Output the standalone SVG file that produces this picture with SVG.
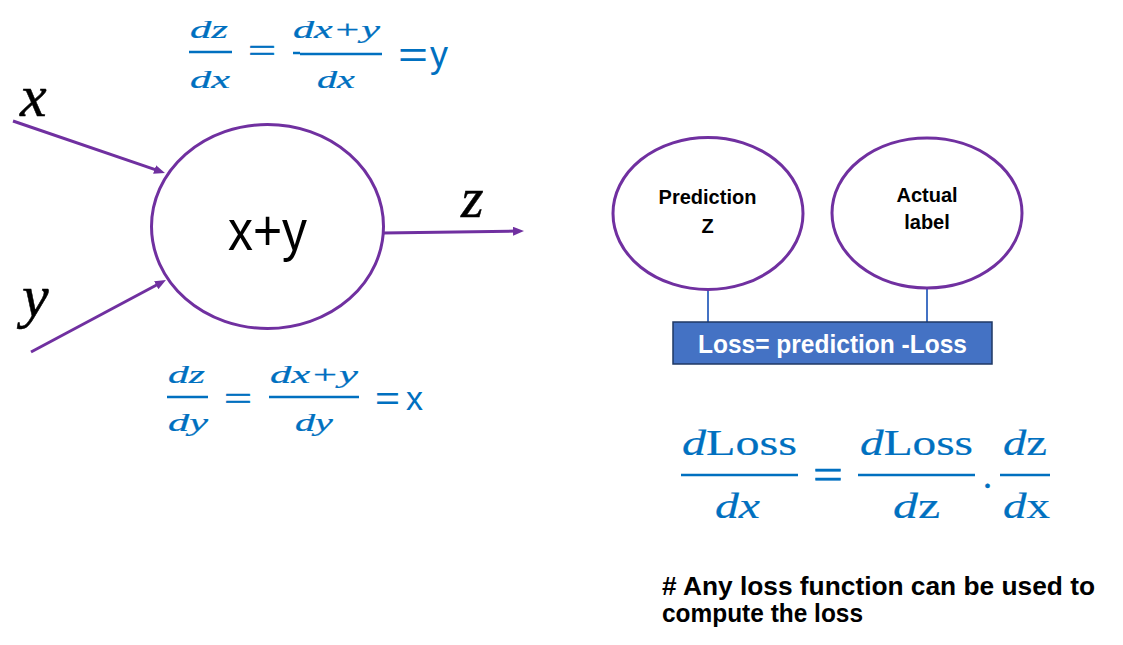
<svg xmlns="http://www.w3.org/2000/svg" width="1123" height="645" viewBox="0 0 1123 645">
<style>
.node{fill:#fff;stroke:#7030A0;stroke-width:3}
.arrow{stroke:#7030A0;stroke-width:3;fill:none}
.link{stroke:#4472C4;stroke-width:2;fill:none}
.var{font-family:"Liberation Serif","DejaVu Serif",serif;font-style:italic;fill:#000;stroke:#000;stroke-width:0.5}
.m{font-family:"Liberation Serif","DejaVu Serif",serif;font-style:italic;fill:#0070C0;stroke:#0070C0;stroke-width:0.2}
.up{font-style:normal}
.eq{font-family:"Liberation Serif","DejaVu Serif",serif;fill:#0070C0;stroke:#0070C0;stroke-width:0.5}
.sans{font-family:"Liberation Sans",Arial,sans-serif;fill:#0070C0}
.bar{stroke:#0070C0;stroke-width:2.5}
.lbl{font-family:"Liberation Sans",Arial,sans-serif;font-weight:bold;fill:#000;text-anchor:middle}
</style>
<defs>
<marker id="ah" markerUnits="userSpaceOnUse" markerWidth="12" markerHeight="10" refX="3" refY="4.5" orient="auto">
<path d="M0,0 L11,4.5 L0,9 z" fill="#7030A0"/>
</marker>
</defs>
<rect width="1123" height="645" fill="#fff"/>

<g id="connectors">
<line class="arrow" x1="13" y1="121" x2="157.4" y2="170.4" marker-end="url(#ah)"/>
<line class="arrow" x1="31" y1="352" x2="158.9" y2="283.8" marker-end="url(#ah)"/>
<line class="arrow" x1="383" y1="233" x2="516" y2="231.1" marker-end="url(#ah)"/>
<line class="link" x1="708" y1="289" x2="708" y2="322"/>
<line class="link" x1="927" y1="288" x2="927" y2="322"/>
</g>

<g id="input-labels">
<text class="var" x="20" y="116" font-size="60">x</text>
<text class="var" x="22" y="316" font-size="60">y</text>
<text class="var" x="461" y="217" font-size="58">z</text>
</g>

<g id="node-sum">
<ellipse class="node" cx="267.5" cy="226.5" rx="116" ry="102"/>
<text x="228" y="250" font-family="Liberation Sans,Arial,sans-serif" font-size="58" textLength="79" lengthAdjust="spacingAndGlyphs">x+y</text>
</g>

<g id="formula-dx">
<text class="m" x="190" y="38" font-size="25" textLength="38" lengthAdjust="spacingAndGlyphs">dz</text>
<line class="bar" x1="189" y1="52" x2="232" y2="52"/>
<text class="m" x="190" y="88" font-size="25" textLength="40" lengthAdjust="spacingAndGlyphs">dx</text>
<text class="eq" x="248" y="62" font-size="34" textLength="28" lengthAdjust="spacingAndGlyphs">=</text>
<line class="bar" x1="293" y1="53" x2="300" y2="53" stroke-width="2"/>
<text class="m" x="293" y="38" font-size="25" textLength="87" lengthAdjust="spacingAndGlyphs">dx+y</text>
<line class="bar" x1="300" y1="54" x2="382" y2="54"/>
<text class="m" x="317" y="88" font-size="25" textLength="38" lengthAdjust="spacingAndGlyphs">dx</text>
<text class="sans" x="398" y="67" font-size="36"><tspan textLength="30" lengthAdjust="spacingAndGlyphs">=</tspan><tspan x="430">y</tspan></text>
</g>

<g id="formula-dy">
<text class="m" x="168" y="383" font-size="25" textLength="37" lengthAdjust="spacingAndGlyphs">dz</text>
<line class="bar" x1="167" y1="397" x2="208" y2="397"/>
<text class="m" x="168" y="431" font-size="25" textLength="40" lengthAdjust="spacingAndGlyphs">dy</text>
<text class="eq" x="224" y="410" font-size="34" textLength="28" lengthAdjust="spacingAndGlyphs">=</text>
<text class="m" x="270" y="383" font-size="25" textLength="88" lengthAdjust="spacingAndGlyphs">dx+y</text>
<line class="bar" x1="269" y1="397" x2="359" y2="397"/>
<text class="m" x="295" y="431" font-size="25" textLength="38" lengthAdjust="spacingAndGlyphs">dy</text>
<text class="sans" x="375" y="410" font-size="34"><tspan textLength="25" lengthAdjust="spacingAndGlyphs">=</tspan><tspan x="406">x</tspan></text>
</g>

<g id="node-prediction">
<ellipse class="node" cx="708" cy="213.5" rx="95" ry="76"/>
<text class="lbl" x="707.5" y="204" font-size="20">Prediction</text>
<text class="lbl" x="707.5" y="233" font-size="20">Z</text>
</g>

<g id="node-actual">
<ellipse class="node" cx="927" cy="213" rx="95" ry="75"/>
<text class="lbl" x="927" y="202" font-size="20">Actual</text>
<text class="lbl" x="927" y="229" font-size="20">label</text>
</g>

<g id="node-loss">
<rect x="673" y="322" width="319" height="42" fill="#4472C4" stroke="#1F3864" stroke-width="1.5"/>
<text x="698" y="353" font-family="Liberation Sans,Arial,sans-serif" font-weight="bold" font-size="25" fill="#fff" textLength="269" lengthAdjust="spacingAndGlyphs">Loss= prediction -Loss</text>
</g>

<g id="formula-chain">
<text class="m" x="682" y="455" font-size="36" textLength="115" lengthAdjust="spacingAndGlyphs">d<tspan class="up">Loss</tspan></text>
<line class="bar" x1="681" y1="475" x2="798" y2="475" stroke-width="3"/>
<text class="m" x="715" y="518" font-size="36" textLength="45" lengthAdjust="spacingAndGlyphs">dx</text>
<text class="eq" x="813" y="489" font-size="44" textLength="30" lengthAdjust="spacingAndGlyphs">=</text>
<text class="m" x="860" y="455" font-size="36" textLength="113" lengthAdjust="spacingAndGlyphs">d<tspan class="up">Loss</tspan></text>
<line class="bar" x1="858" y1="475" x2="975" y2="475" stroke-width="3"/>
<text class="m" x="893" y="518" font-size="36" textLength="47" lengthAdjust="spacingAndGlyphs">d<tspan class="up">z</tspan></text>
<text class="eq" x="983" y="488" font-size="36">.</text>
<text class="m" x="1003" y="455" font-size="36" textLength="44" lengthAdjust="spacingAndGlyphs">d<tspan class="up">z</tspan></text>
<line class="bar" x1="1000" y1="475" x2="1050" y2="475" stroke-width="3"/>
<text class="m" x="1003" y="518" font-size="36" textLength="47" lengthAdjust="spacingAndGlyphs">d<tspan class="up">x</tspan></text>
</g>

<g id="note">
<text x="662" y="595" font-family="Liberation Sans,Arial,sans-serif" font-weight="bold" font-size="25" textLength="433" lengthAdjust="spacingAndGlyphs"># Any loss function can be used to</text>
<text x="662" y="622" font-family="Liberation Sans,Arial,sans-serif" font-weight="bold" font-size="25" textLength="201" lengthAdjust="spacingAndGlyphs">compute the loss</text>
</g>
</svg>
